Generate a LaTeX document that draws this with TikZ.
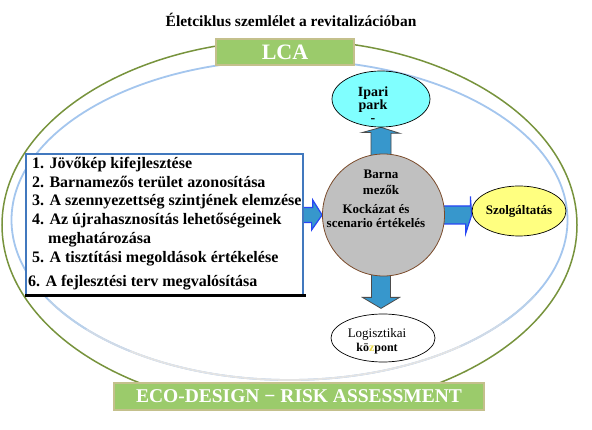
\documentclass[tikz,border=0pt]{standalone}
\usepackage{fontspec}
\setmainfont{Liberation Serif}
\usepackage{tikz}
\usetikzlibrary{shapes.geometric}
\usetikzlibrary{backgrounds}
\usepackage{xcolor}
\definecolor{ringgreen}{HTML}{77933C}
\definecolor{ringblue}{HTML}{A4C6EE}
\definecolor{ringgray}{HTML}{E4E4E4}
\definecolor{bannergreen}{HTML}{9BCB6B}
\definecolor{bannerrim}{HTML}{C4C08C}
\definecolor{listblue}{HTML}{4178BE}
\definecolor{arrowfill}{HTML}{3797CC}
\definecolor{arrowrim}{HTML}{2846F5}
\definecolor{fieldgray}{HTML}{C0C0C0}
\definecolor{fieldrim}{HTML}{7A4A2A}
\definecolor{parkcyan}{HTML}{80FFFF}
\definecolor{svcyellow}{HTML}{FFFF80}
\definecolor{zyellow}{HTML}{E8D84A}
\tikzstyle{banner}=[draw=bannerrim,fill=bannergreen,line width=2pt,text=white]
\tikzstyle{list item}=[anchor=base west,inner sep=0pt,font=\fontsize{16}{19}\selectfont\bfseries]
\tikzstyle{bubble}=[ellipse,draw=black,line width=0.7pt,inner sep=0pt]
\tikzstyle{side arrow}=[fill=arrowfill,draw=arrowrim,line width=1.2pt]
\tikzstyle{updown arrow}=[fill=arrowfill,draw=black!70,line width=0.8pt]

\begin{document}
\begin{tikzpicture}[x=1pt,y=-1pt]
  \useasboundingbox (0,0) rectangle (592,430);
  \draw[ringgreen,line width=1.5pt] (289.5,225) ellipse [x radius=287.5,y radius=185];
  \draw[ringblue,line width=1.8pt] (289.5,220) ellipse [x radius=278,y radius=160];
  \foreach \s/\e/\m in {28/40/65,40/52/30,52/125/0,125/137/30,137/150/65}
    \draw[draw=ringblue!\m!ringgray,line width=1.8pt] ([shift={(\s:278 and 160)}]289.5,220)
      arc [start angle=\s,end angle=\e,x radius=278,y radius=160];

  \node[anchor=base,font=\fontsize{15.5}{18}\selectfont\bfseries] (title) at (291,27)
    {Életciklus szemlélet a revitalizációban};
  \node[banner,minimum width=138pt,minimum height=26pt,font=\fontsize{22}{26}\selectfont\bfseries] (lca) at (285,52) {LCA};
  \node[banner,minimum width=370pt,minimum height=27pt,font=\fontsize{19.5}{23}\selectfont\bfseries] (eco) at (299,396.5)
    {ECO-DESIGN − RISK ASSESSMENT};

  % steps of the revitalization
  \node[draw=listblue,fill=white,line width=1.5pt,minimum width=277pt,minimum height=141pt] (list) at (164.5,224.5) {};
  \draw[line width=3pt] (list.south west) -- ([xshift=2pt]list.south east);
  \node[list item] (item1) at (32,168.5) {1. Jövőkép kifejlesztése};
  \node[list item] (item2) at (32,187.3) {2. Barnamezős terület azonosítása};
  \node[list item] (item3) at (32,205.8) {3. A szennyezettség szintjének elemzése};
  \node[list item] (item4) at (32,225) {4. Az újrahasznosítás lehetőségeinek};
  \node[list item] (item4b) at (48,243.5) {meghatározása};
  \node[list item] (item5) at (32,262.7) {5. A tisztítási megoldások értékelése};
  \node[list item] (item6) at (28,286.7) {6. A fejlesztési terv megvalósítása};

  \node[circle,draw=fieldrim,fill=fieldgray,line width=0.8pt,minimum size=122pt,inner sep=0pt] (field) at (383.5,215) {};
  \node[align=center,font=\fontsize{13}{16}\selectfont\bfseries] (fieldname) at (381,182) {Barna\\mezők};
  \node[align=center,font=\fontsize{13}{14}\selectfont\bfseries] (fieldrisk) at (376,216) {Kockázat és\\scenario értékelés};

  \node[bubble,fill=parkcyan,minimum width=98pt,minimum height=56pt] (park) at (381,99) {};
  \node[align=center,font=\fontsize{14}{13}\selectfont\bfseries] (parktext) at (373,104.5) {Ipari\\park\\-};
  \node[bubble,fill=svcyellow,minimum width=86pt,minimum height=50pt,font=\fontsize{13}{16}\selectfont\bfseries] (svc) at (519,211) {Szolgáltatás};
  \node[bubble,fill=white,minimum width=104pt,minimum height=48pt] (hub) at (383,338) {};
  \node[align=center,font=\fontsize{13}{14}\selectfont] (hubtext) at (377,341)
    {Logisztikai\\{\fontsize{12}{14}\selectfont\bfseries kö{\color{zyellow}z}pont}};

  \begin{pgfonlayer}{background}
    \fill[white] (0,0) rectangle (592,430);
    \draw[side arrow] (list.east |- field) ++(-2,-7.5) -- ++(11,0) -- ++(0,-7.5) -- (field.west)
      -- ++(-10.5,15) -- ++(0,-7.5) -- ++(-11,0) -- cycle;
    \draw[side arrow] (field.east) ++(-3,-9) -- ++(28.5,0) -- ++(0,-9.5) -- (svc.west |- field)
      -- ++(-6,18.5) -- ++(0,-9.5) -- ++(-28.5,0) -- cycle;
    \draw[updown arrow] (park |- field.north) ++(-10,3) -- ++(0,-24) -- ++(-9,0) -- (park.south)
      -- ++(19,6) -- ++(-9,0) -- ++(0,24) -- cycle;
    \draw[updown arrow] (park |- field.south) ++(-9.5,-3) -- ++(0,24) -- ++(-9,0) -- ++(18.5,11)
      -- ++(18.5,-11) -- ++(-9,0) -- ++(0,-24) -- cycle;
  \end{pgfonlayer}
\end{tikzpicture}
\end{document}
